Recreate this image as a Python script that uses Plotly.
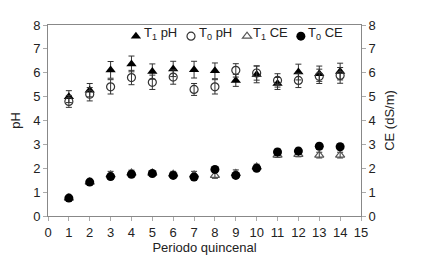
import plotly.graph_objects as go

periods = list(range(1, 15))
t1_ph = [5.0, 5.27, 6.12, 6.37, 6.05, 6.16, 6.13, 6.08, 5.68, 5.93, 5.55, 6.03, 5.96, 6.05]
t1_ph_err = [0.25, 0.28, 0.35, 0.33, 0.32, 0.32, 0.35, 0.33, 0.25, 0.35, 0.25, 0.33, 0.32, 0.35]
t0_ph = [4.8, 5.1, 5.41, 5.8, 5.6, 5.82, 5.3, 5.41, 6.1, 5.99, 5.68, 5.68, 5.85, 5.89]
t0_ph_err = [0.25, 0.28, 0.3, 0.3, 0.3, 0.3, 0.25, 0.3, 0.28, 0.3, 0.28, 0.3, 0.3, 0.33]
t1_ce = [0.75, 1.42, 1.72, 1.8, 1.8, 1.75, 1.72, 1.7, 1.78, 2.05, 2.55, 2.58, 2.55, 2.55]
t1_ce_err = [0.05, 0.08, 0.15, 0.12, 0.08, 0.12, 0.15, 0.12, 0.15, 0.12, 0.1, 0.1, 0.12, 0.12]
t0_ce = [0.75, 1.42, 1.65, 1.75, 1.78, 1.7, 1.63, 1.95, 1.7, 2.0, 2.68, 2.72, 2.92, 2.9]
t0_ce_err = [0.05, 0.08, 0.1, 0.1, 0.08, 0.1, 0.1, 0.1, 0.1, 0.1, 0.12, 0.12, 0.12, 0.12]

series_labels = ["T<sub>1</sub> pH", "T<sub>0</sub> pH", "T<sub>1</sub> CE", "T<sub>0</sub> CE"]

x_ticks = list(range(0, 16))
y_ticks = list(range(0, 9))

font = dict(family="Liberation Sans, Arial, sans-serif", size=13, color="#222")
legend_font = dict(family="Liberation Sans, Arial, sans-serif", size=13, color="#222")

def err(vals):
    return dict(type="data", array=vals, color="#333", thickness=1, width=3)

fig = go.Figure()
fig.add_trace(go.Scatter(x=periods, y=t1_ph, mode="markers", name="", legend="legend",
                         marker=dict(symbol="triangle-up", size=9, color="black"),
                         error_y=err(t1_ph_err)))
fig.add_trace(go.Scatter(x=periods, y=t0_ph, mode="markers", name="", legend="legend2",
                         marker=dict(symbol="circle-open", size=8, color="#333", line=dict(width=1.2)),
                         error_y=err(t0_ph_err)))
fig.add_trace(go.Scatter(x=periods, y=t1_ce, mode="markers", name="", yaxis="y2", legend="legend3",
                         marker=dict(symbol="triangle-up-open", size=8, color="#555", line=dict(width=1.2)),
                         error_y=err(t1_ce_err)))
fig.add_trace(go.Scatter(x=periods, y=t0_ce, mode="markers", name="", yaxis="y2", legend="legend4",
                         marker=dict(symbol="circle", size=9, color="black"),
                         error_y=err(t0_ce_err)))

axis_common = dict(showgrid=False, zeroline=False, showline=True, linecolor="#888", linewidth=1,
                   ticks="outside", ticklen=4, tickcolor="#aaa", tickfont=font, automargin=False)

def leg(x):
    return dict(orientation="h", x=x, y=1.02, xanchor="left", yanchor="top",
                bgcolor="rgba(0,0,0,0)", borderwidth=0, font=legend_font,
                itemwidth=30, itemsizing="trace")

label_x = [0.300, 0.476, 0.649, 0.824]
annotations = [dict(text=lbl, x=lx, y=0.958, xref="paper", yref="paper", xanchor="left",
                    yanchor="middle", showarrow=False, font=legend_font)
               for lbl, lx in zip(series_labels, label_x)]

fig.update_layout(
    width=431, height=257,
    margin=dict(l=40, r=78, t=17, b=49, autoexpand=False),
    paper_bgcolor="white", plot_bgcolor="white",
    font=font,
    showlegend=True,
    legend=leg(0.217),
    legend2=leg(0.393),
    legend3=leg(0.572),
    legend4=leg(0.744),
    annotations=annotations,
    xaxis=dict(range=[0, 15], tickvals=x_ticks, mirror=True,
               title=dict(text="Periodo quincenal", font=font, standoff=2), **axis_common),
    yaxis=dict(range=[0, 8], tickvals=y_ticks, mirror=False,
               title=dict(text="pH", font=font, standoff=14), **axis_common),
    yaxis2=dict(range=[0, 8], tickvals=y_ticks, overlaying="y", side="right",
                title=dict(text="CE (dS/m)", font=font, standoff=10), **axis_common),
)

fig.write_html("out.html")
